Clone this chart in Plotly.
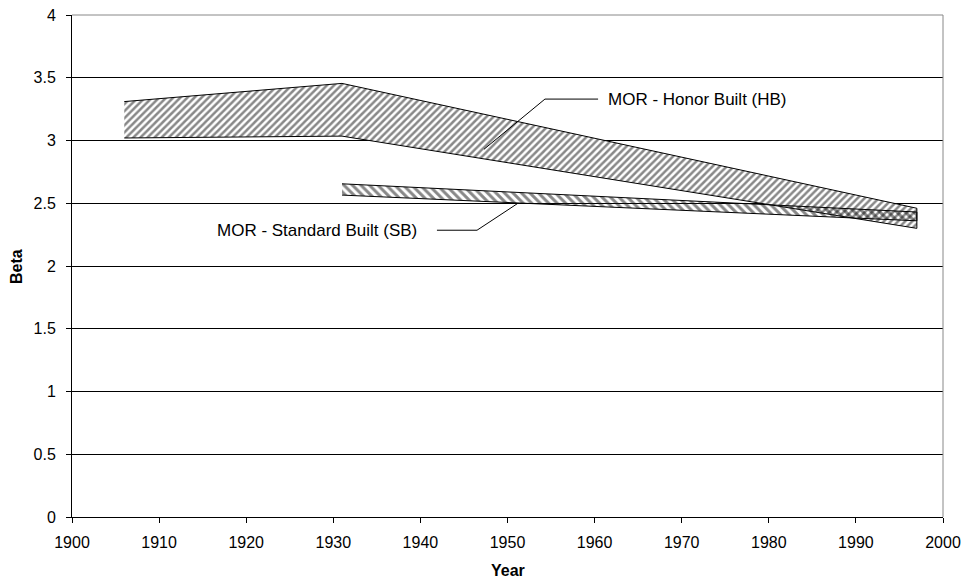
import plotly.graph_objects as go

# ---- data ----
hb_years = [1906, 1931, 1997]
hb_upper = [3.31, 3.455, 2.46]
hb_lower = [3.02, 3.035, 2.30]

sb_years = [1931, 1997]
sb_upper = [2.655, 2.43]
sb_lower = [2.565, 2.36]

y_tickvals = [0, 0.5, 1, 1.5, 2, 2.5, 3, 3.5, 4]
y_ticktext = ["0", "0.5", "1", "1.5", "2", "2.5", "3", "3.5", "4"]
x_tickvals = [1900, 1910, 1920, 1930, 1940, 1950, 1960, 1970, 1980, 1990, 2000]

hb_label = "MOR - Honor Built (HB)"
sb_label = "MOR - Standard Built (SB)"

# leader lines (data coords)
hb_leader_x = [1947.3, 1954.3, 1960.4]
hb_leader_y = [2.93, 3.33, 3.33]
sb_leader_x = [1941.9, 1946.5, 1951.2]
sb_leader_y = [2.285, 2.285, 2.50]

FONT = "Liberation Sans, Arial, sans-serif"

fig = go.Figure()

fig.add_trace(go.Scatter(
    x=hb_years + hb_years[::-1],
    y=hb_upper + hb_lower[::-1],
    fill="toself", mode="lines",
    line=dict(color="black", width=1),
    fillcolor="rgba(0,0,0,0)",
    fillpattern=dict(shape="/", fgcolor="#111", bgcolor="white", size=5, solidity=0.5),
    showlegend=False, hoverinfo="skip",
))
fig.add_trace(go.Scatter(
    x=sb_years + sb_years[::-1],
    y=sb_upper + sb_lower[::-1],
    fill="toself", mode="lines",
    line=dict(color="black", width=1),
    fillcolor="rgba(0,0,0,0)",
    fillpattern=dict(shape="\\", fgcolor="#111", bgcolor="rgba(0,0,0,0)", size=6, solidity=0.5),
    showlegend=False, hoverinfo="skip",
))

fig.add_trace(go.Scatter(x=hb_leader_x, y=hb_leader_y, mode="lines",
                         line=dict(color="black", width=1), showlegend=False, hoverinfo="skip"))
fig.add_trace(go.Scatter(x=sb_leader_x, y=sb_leader_y, mode="lines",
                         line=dict(color="black", width=1), showlegend=False, hoverinfo="skip"))

fig.add_annotation(x=hb_leader_x[-1], y=hb_leader_y[-1], text=hb_label, showarrow=False,
                   xanchor="left", yanchor="middle", xshift=8,
                   font=dict(family=FONT, size=17, color="black"))
fig.add_annotation(x=sb_leader_x[0], y=sb_leader_y[0], text=sb_label, showarrow=False,
                   xanchor="right", yanchor="middle", xshift=-18,
                   font=dict(family=FONT, size=17, color="black"))

# axis titles
fig.add_annotation(xref="paper", yref="paper", x=-0.0643, y=0.5, text="<b>Beta</b>",
                   textangle=-90, showarrow=False, xanchor="center", yanchor="middle",
                   font=dict(family=FONT, size=16, color="black"))
fig.add_annotation(xref="paper", yref="paper", x=0.5, y=-0.1056, text="<b>Year</b>",
                   showarrow=False, xanchor="center", yanchor="middle",
                   font=dict(family=FONT, size=16, color="black"))

# plot area border (gray, top and right)
fig.add_shape(type="line", xref="paper", yref="paper", x0=0, y0=1, x1=1, y1=1,
              line=dict(color="#888", width=1), layer="above")
fig.add_shape(type="line", xref="paper", yref="paper", x0=1, y0=0, x1=1, y1=1,
              line=dict(color="#888", width=1), layer="above")

fig.update_layout(
    width=963, height=581,
    margin=dict(l=72, r=20, t=15, b=64),
    paper_bgcolor="white", plot_bgcolor="white",
    font=dict(family=FONT, size=16, color="black"),
    xaxis=dict(
        range=[1900, 2000], tickvals=x_tickvals, showgrid=False, automargin=False,
        ticks="outside", ticklen=5, tickcolor="black", ticklabelstandoff=6,
        showline=True, linecolor="black", linewidth=1, zeroline=False,
        tickfont=dict(size=16),
    ),
    yaxis=dict(
        range=[0, 4], tickvals=y_tickvals, ticktext=y_ticktext, automargin=False,
        showgrid=True, gridcolor="black", gridwidth=1,
        ticks="outside", ticklen=5, tickcolor="black", ticklabelstandoff=7,
        showline=True, linecolor="black", linewidth=1, zeroline=False,
        tickfont=dict(size=16),
    ),
)

# remove the page's default 8px body margin so the figure sits at the window's corner
fig.write_html("out.html", config={"displayModeBar": False},
               post_script="document.body.style.margin='0';")
